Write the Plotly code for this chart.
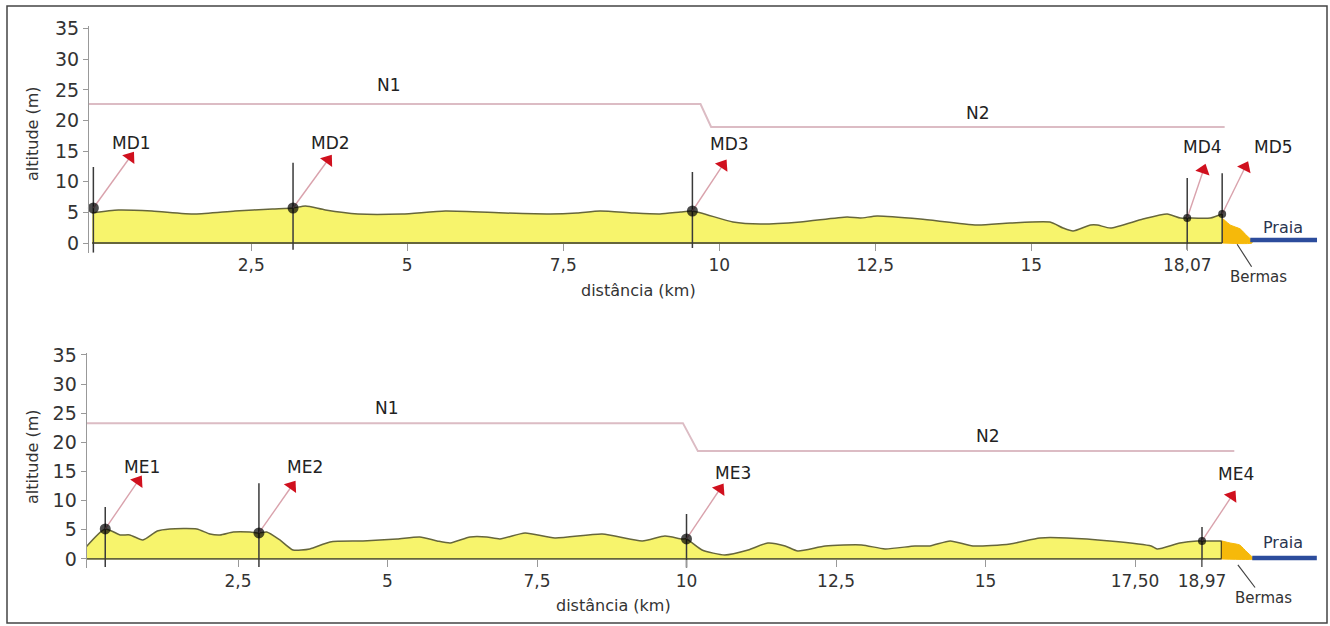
import plotly.graph_objects as go

# ------------------------------------------------------------------ data
# Top profile (MD transect): distance (km) / altitude (m)
top_dist = [-0.05, 0.37, 0.91, 1.60, 2.24, 2.84, 3.17, 3.37, 3.69, 4.21, 4.92, 5.61,
            6.57, 7.29, 7.72, 8.09, 8.62, 9.05, 9.38, 9.57, 10.22, 10.66, 11.30,
            12.05, 12.26, 12.53, 13.22, 14.13, 14.66, 15.30, 15.51, 15.67, 15.95,
            16.06, 16.27, 16.79, 17.18, 17.39, 17.50, 17.87, 18.06]
top_alt = [4.90, 5.39, 5.23, 4.74, 5.23, 5.56, 5.72, 6.05, 5.39, 4.74, 4.74, 5.23,
           4.90, 4.74, 4.90, 5.23, 4.90, 4.74, 5.07, 5.23, 3.43, 3.10, 3.43,
           4.25, 4.08, 4.41, 3.92, 2.94, 3.27, 3.43, 2.45, 1.96, 2.94,
           2.94, 2.45, 3.92, 4.74, 4.08, 4.08, 4.08, 4.74]

# Bottom profile (ME transect)
bot_dist = [-0.04, 0.28, 0.53, 0.69, 0.91, 1.15, 1.36, 1.81, 2.03, 2.20, 2.42, 2.70,
            2.85, 2.98, 3.20, 3.42, 3.70, 4.04, 4.59, 5.16, 5.54, 5.83, 6.05, 6.38,
            6.66, 6.88, 7.30, 7.80, 8.59, 9.26, 9.64, 9.92, 10.00, 10.26, 10.64,
            11.03, 11.36, 11.65, 11.86, 12.32, 12.93, 13.32, 13.82, 14.07, 14.41,
            14.79, 15.41, 15.91, 16.36, 17.08, 17.77, 17.87, 18.25, 18.54, 18.62, 18.95]
bot_alt = [2.06, 5.15, 4.12, 4.12, 3.26, 4.80, 5.15, 5.15, 4.29, 4.12, 4.63, 4.63,
           4.46, 4.63, 3.26, 1.54, 1.72, 2.92, 3.09, 3.43, 3.77, 3.09, 2.74, 3.77,
           3.77, 3.43, 4.46, 3.60, 4.29, 3.09, 3.95, 3.43, 3.43, 1.54, 0.69,
           1.54, 2.74, 2.23, 1.37, 2.23, 2.40, 1.72, 2.23, 2.23, 3.09,
           2.23, 2.57, 3.60, 3.60, 3.09, 2.23, 1.72, 2.74, 3.09, 3.09, 3.09]

# Sampling points (MD / ME)
md_names = ["MD1", "MD2", "MD3", "MD4", "MD5"]
md_dist = [-0.03, 3.17, 9.57, 17.50, 18.06]
md_alt = [5.72, 5.72, 5.23, 4.08, 4.74]
md_pole_top = [12.4, 13.1, 11.6, 10.6, 11.4]
md_pole_bottom = [-1.6, -1.1, -0.8, -1.1, 0.0]
md_arrow_x = [0.56, 3.73, 10.06, 17.76, 18.43]
md_arrow_y = [14.05, 13.56, 12.75, 11.93, 12.42]
md_label_x = [0.58, 3.77, 10.16, 17.74, 18.89]
md_label_y = [16.3, 16.3, 16.2, 15.7, 15.7]

me_names = ["ME1", "ME2", "ME3", "ME4"]
me_dist = [0.28, 2.85, 10.00, 18.62]
me_alt = [5.15, 4.46, 3.43, 3.09]
me_pole_top = [8.9, 13.0, 7.7, 5.5]
me_pole_bottom = [-1.4, -1.4, -1.5, -1.4]
me_arrow_x = [0.83, 3.40, 10.56, 19.12]
me_arrow_y = [13.38, 12.52, 12.0, 10.81]
me_label_x = [0.89, 3.62, 10.78, 19.19]
me_label_y = [15.8, 15.8, 14.8, 14.6]

# Water-table levels N1 / N2
top_level_x = [-0.1, 9.70, 9.87, 18.10]
top_level_y = [22.7, 22.7, 18.95, 18.95]
bot_level_x = [-0.03, 9.94, 10.19, 19.16]
bot_level_y = [23.3, 23.3, 18.5, 18.5]
top_level_labels = [("N1", 4.71, 25.8), ("N2", 14.15, 21.2)]
bot_level_labels = [("N1", 4.99, 25.9), ("N2", 15.04, 21.1)]

# Bermas (berm) outline and Praia (beach)
top_berm_x = [18.06, 18.19, 18.35, 18.46, 18.53, 18.54, 18.06]
top_berm_y = [4.08, 2.94, 2.29, 1.14, 0.49, 0.0, 0.0]
bot_berm_x = [18.95, 19.09, 19.25, 19.37, 19.46, 19.49, 18.95]
bot_berm_y = [3.09, 2.74, 2.40, 1.20, 0.34, 0.0, 0.0]
top_beach_x = [18.51, 19.58]
top_beach_y = [0.5, 0.5]
bot_beach_x = [19.46, 20.54]
bot_beach_y = [0.17, 0.17]

# Axis ticks
y_ticks = [0, 5, 10, 15, 20, 25, 30, 35]
top_xtick_vals = [2.5, 5, 7.5, 10, 12.5, 15, 17.5]
top_xtick_text = ["2,5", "5", "7,5", "10", "12,5", "15", "18,07"]
bot_xtick_vals = [2.5, 5, 7.5, 10, 12.5, 15, 17.5, 18.62]
bot_xtick_text = ["2,5", "5", "7,5", "10", "12,5", "15", "17,50", "18,97"]

# ------------------------------------------------------------------ layout helpers
W, H = 1330, 626
FONT = "DejaVu Sans"
YELLOW = "#f7f46c"
OLIVE = "#66663c"
LEVEL = "#dcbcc4"
ARROW = "#d9a2ac"
RED = "#d0101e"
ORANGE = "#f6b90a"
BLUE = "#2c4c9c"


def xdom(p0, p1):
    return [p0 / W, p1 / W]


def ydom(ptop, pbot):
    return [1 - pbot / H, 1 - ptop / H]


fig = go.Figure()


def add_panel(xa, ya, dist, alt, names, pdist, palt, ptop, pbot, ax_, ay_,
              lx, ly, lvx, lvy, lvl_labels, berm_x, berm_y, beach_x, beach_y,
              dot_sizes, praia_pos, bermas_text, bermas_tip, edge_line):
    # terrain fill
    fig.add_trace(go.Scatter(x=dist, y=alt, xaxis=xa, yaxis=ya, mode="lines",
                             line=dict(color=OLIVE, width=1.5, shape="spline", smoothing=0.6),
                             fill="tozeroy", fillcolor=YELLOW, hoverinfo="skip"))
    # baseline
    fig.add_trace(go.Scatter(x=[dist[0], dist[-1]], y=[0, 0], xaxis=xa, yaxis=ya,
                             mode="lines", line=dict(color=OLIVE, width=1.8), hoverinfo="skip"))
    if edge_line:
        fig.add_trace(go.Scatter(x=[dist[-1], dist[-1]], y=[0, alt[-1]], xaxis=xa, yaxis=ya,
                                 mode="lines", line=dict(color="#222", width=2), hoverinfo="skip"))
    # berm
    fig.add_trace(go.Scatter(x=berm_x, y=berm_y, xaxis=xa, yaxis=ya, mode="lines",
                             line=dict(color=ORANGE, width=1, shape="spline", smoothing=0.5),
                             fill="toself", fillcolor=ORANGE, hoverinfo="skip"))
    # beach
    fig.add_trace(go.Scatter(x=beach_x, y=beach_y, xaxis=xa, yaxis=ya, mode="lines",
                             line=dict(color=BLUE, width=4.5), hoverinfo="skip"))
    # water level
    fig.add_trace(go.Scatter(x=lvx, y=lvy, xaxis=xa, yaxis=ya, mode="lines",
                             line=dict(color=LEVEL, width=2), hoverinfo="skip"))
    # poles
    vx, vy = [], []
    for d, t, b in zip(pdist, ptop, pbot):
        vx += [d, d, None]
        vy += [b, t, None]
    fig.add_trace(go.Scatter(x=vx, y=vy, xaxis=xa, yaxis=ya, mode="lines",
                             line=dict(color="#3a3a3a", width=1.5), hoverinfo="skip"))
    # arrows
    for d, a, hx, hy in zip(pdist, palt, ax_, ay_):
        fig.add_trace(go.Scatter(x=[d, hx], y=[a, hy], xaxis=xa, yaxis=ya,
                                 mode="lines+markers",
                                 line=dict(color=ARROW, width=1.4),
                                 marker=dict(symbol=["circle", "triangle-up"], size=[0, 13],
                                             color=RED, angleref="previous", opacity=1,
                                             line=dict(width=0)),
                                 cliponaxis=False, hoverinfo="skip"))
    # dots
    fig.add_trace(go.Scatter(x=pdist, y=palt, xaxis=xa, yaxis=ya, mode="markers",
                             marker=dict(color="black", size=dot_sizes, line=dict(width=0)),
                             cliponaxis=False, hoverinfo="skip"))
    # labels
    for n, x, y in zip(names, lx, ly):
        fig.add_annotation(x=x, y=y, xref=xa, yref=ya, text=n, showarrow=False,
                           xanchor="center", yanchor="middle",
                           font=dict(family=FONT, size=17, color="#222"))
    for n, x, y in lvl_labels:
        fig.add_annotation(x=x, y=y, xref=xa, yref=ya, text=n, showarrow=False,
                           xanchor="center", yanchor="middle",
                           font=dict(family=FONT, size=17, color="#222"))
    fig.add_annotation(x=praia_pos[0], y=praia_pos[1], xref=xa, yref=ya, text="Praia",
                       showarrow=False, xanchor="center", yanchor="middle",
                       font=dict(family=FONT, size=16, color="#2a3550"))
    fig.add_annotation(x=bermas_tip[0], y=bermas_tip[1], xref=xa, yref=ya,
                       ax=bermas_text[0], ay=bermas_text[1], axref=xa, ayref=ya,
                       text="Bermas", showarrow=True, arrowhead=0, arrowwidth=1.2,
                       arrowcolor="#444", font=dict(family=FONT, size=15, color="#333"))


add_panel("x", "y", top_dist, top_alt, md_names, md_dist, md_alt, md_pole_top,
          md_pole_bottom, md_arrow_x, md_arrow_y, md_label_x, md_label_y,
          top_level_x, top_level_y, top_level_labels, top_berm_x, top_berm_y,
          top_beach_x, top_beach_y, [11, 11, 11, 8, 8], (19.04, 2.6),
          (18.64, -5.6), (18.30, -0.2), False)
add_panel("x2", "y2", bot_dist, bot_alt, me_names, me_dist, me_alt, me_pole_top,
          me_pole_bottom, me_arrow_x, me_arrow_y, me_label_x, me_label_y,
          bot_level_x, bot_level_y, bot_level_labels, bot_berm_x, bot_berm_y,
          bot_beach_x, bot_beach_y, [11, 11, 11, 8], (19.98, 2.9),
          (19.64, -6.7), (19.22, -1.0), True)

xaxis_common = dict(showgrid=False, zeroline=False, ticks="outside", tickcolor="#999",
                    automargin=False,
                    tickfont=dict(family=FONT, size=17, color="#333"))
yaxis_common = dict(showgrid=False, zeroline=False, ticks="outside", tickcolor="#999",
                    automargin=False,
                    tickfont=dict(family=FONT, size=19, color="#333"))

fig.update_layout(
    template="none",
    width=W, height=H, margin=dict(l=0, r=0, t=0, b=0, pad=0, autoexpand=False),
    paper_bgcolor="white", plot_bgcolor="white", showlegend=False,
    xaxis=dict(domain=xdom(89, 1324.5), range=[-0.1, 19.7], anchor="free",
               position=1 - 243 / H, showline=False, ticklen=7,
               tickvals=top_xtick_vals, ticktext=top_xtick_text, **xaxis_common),
    yaxis=dict(domain=ydom(25.7, 252.8), range=[-1.6, 35.5], anchor="x",
               showline=True, linecolor="#999", linewidth=1.2, ticklen=5,
               tickvals=y_ticks, **yaxis_common),
    xaxis2=dict(domain=xdom(86.7, 1323.4), range=[-0.03, 20.65], anchor="free",
                position=1 - 559 / H, showline=False, ticklen=7,
                tickvals=bot_xtick_vals, ticktext=bot_xtick_text, **xaxis_common),
    yaxis2=dict(domain=ydom(353.2, 567.7), range=[-1.5, 35.3], anchor="x2",
                showline=True, linecolor="#999", linewidth=1.2, ticklen=5,
                tickvals=y_ticks, **yaxis_common),
)

# axis titles
for txt, x, y, ang in [("altitude (m)", 32, 134, -90), ("distância (km)", 638, 290, 0),
                       ("altitude (m)", 32, 457, -90), ("distância (km)", 613, 605, 0)]:
    fig.add_annotation(x=x / W, y=1 - y / H, xref="paper", yref="paper", text=txt,
                       textangle=ang, showarrow=False, xanchor="center", yanchor="middle",
                       font=dict(family=FONT, size=16, color="#333"))

# outer frame
fig.add_shape(type="rect", xref="paper", yref="paper", x0=7 / W, x1=1327 / W,
              y0=1 - 623 / H, y1=1 - 6 / H, line=dict(color="#444", width=1.5))

fig.write_html("out.html", config={"displayModeBar": False},
               post_script="document.body.style.margin='0';"
                           "document.body.style.overflow='hidden';")
